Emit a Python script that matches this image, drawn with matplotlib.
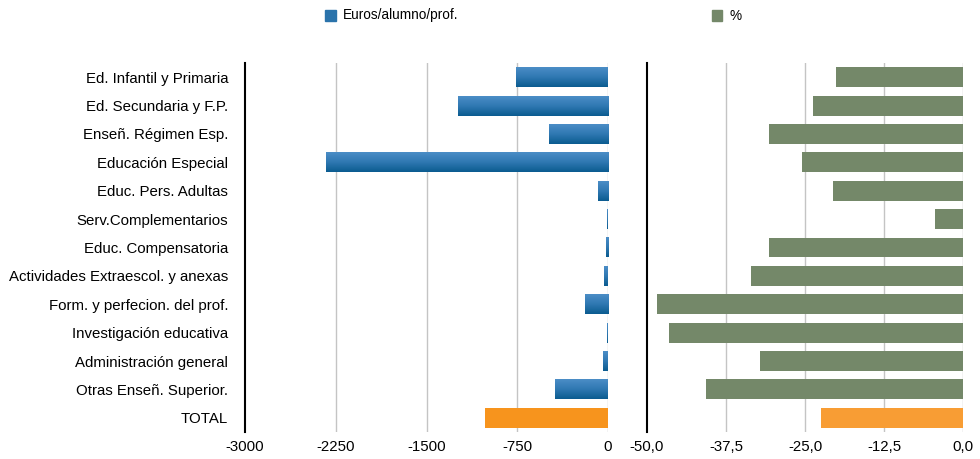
import matplotlib
matplotlib.use("Agg")
import matplotlib.pyplot as plt
import numpy as np
from matplotlib.colors import LinearSegmentedColormap

categories = ["Ed. Infantil y Primaria", "Ed. Secundaria y F.P.", "Enseñ. Régimen Esp.",
              "Educación Especial", "Educ. Pers. Adultas", "Serv.Complementarios",
              "Educ. Compensatoria", "Actividades Extraescol. y anexas",
              "Form. y perfecion. del prof.", "Investigación educativa",
              "Administración general", "Otras Enseñ. Superior.", "TOTAL"]
euros = [-760, -1240, -488, -2331, -83, -8, -17, -32, -193, -8, -41, -438, -1017]
pct = [-20.1, -23.8, -30.7, -25.5, -20.5, -4.4, -30.7, -33.5, -48.4, -46.5, -32.1, -40.6, -22.5]
euro_ticks = [-3000, -2250, -1500, -750, 0]
euro_ticklabels = ["-3000", "-2250", "-1500", "-750", "0"]
pct_ticks = [-50, -37.5, -25, -12.5, 0]
pct_ticklabels = ["-50,0", "-37,5", "-25,0", "-12,5", "0,0"]

plt.rcParams['font.family'] = ['Liberation Sans', 'DejaVu Sans']

fig = plt.figure(figsize=(9.8, 4.59), dpi=100)
ax1 = fig.add_axes([245/980, 1-432/459, 363/980, 369/459])
ax2 = fig.add_axes([647/980, 1-432/459, 316/980, 369/459])

y = np.arange(len(categories))
h = 0.7
blue_cmap = LinearSegmentedColormap.from_list("b", ["#4b8dc6", "#2f78b2", "#0b5c90"])
grad = np.linspace(0, 1, 50).reshape(-1, 1)

colors1 = ["#2a73ab"] * (len(categories) - 1) + ["#f7941d"]
bars1 = ax1.barh(y, euros, height=h, color=colors1, zorder=3)
for i, b in enumerate(bars1):
    if i == len(categories) - 1:
        continue
    x0 = b.get_x(); w = b.get_width(); y0 = b.get_y(); hh = b.get_height()
    b.set_alpha(0)
    ax1.imshow(grad, cmap=blue_cmap, aspect='auto', zorder=4,
               extent=[x0, x0 + w, y0 + hh, y0], origin='upper')

colors2 = ["#748869"] * (len(categories) - 1) + ["#f89d34"]
ax2.barh(y, pct, height=h, color=colors2, zorder=3)

for ax, ticks, labels, lim in [(ax1, euro_ticks, euro_ticklabels, (-3000, 0)),
                                (ax2, pct_ticks, pct_ticklabels, (-50, 0))]:
    ax.set_xlim(*lim)
    ax.set_ylim(len(categories) - 0.5, -0.5)
    ax.set_xticks(ticks)
    ax.set_xticklabels(labels, fontsize=10.8)
    ax.tick_params(axis='x', length=0, pad=6)
    ax.tick_params(axis='y', length=0)
    for t in ticks[1:]:
        ax.axvline(t, color="#c4c4c4", lw=1, zorder=1)
    for s in ["top", "right", "bottom"]:
        ax.spines[s].set_visible(False)
    ax.spines["left"].set_color("black")
    ax.spines["left"].set_linewidth(1.5)
    ax.set_facecolor("white")

ax1.set_yticks(y)
ax1.set_yticklabels(categories, fontsize=10.8)
ax1.tick_params(axis='y', pad=12)
ax2.set_yticks([])

# legend
fig.patches.append(plt.Rectangle((325/980, 1-21/459), 11/980, 11/459, transform=fig.transFigure,
                                 color="#2a73ab", figure=fig))
fig.text(343/980, 1-15.5/459, "Euros/alumno/prof.", fontsize=9.8, va='center', ha='left')
fig.patches.append(plt.Rectangle((712/980, 1-21/459), 10/980, 11/459, transform=fig.transFigure,
                                 color="#748869", figure=fig))
fig.text(729/980, 1-15.5/459, "%", fontsize=9.8, va='center', ha='left')

fig.savefig("out.png", dpi=100)
